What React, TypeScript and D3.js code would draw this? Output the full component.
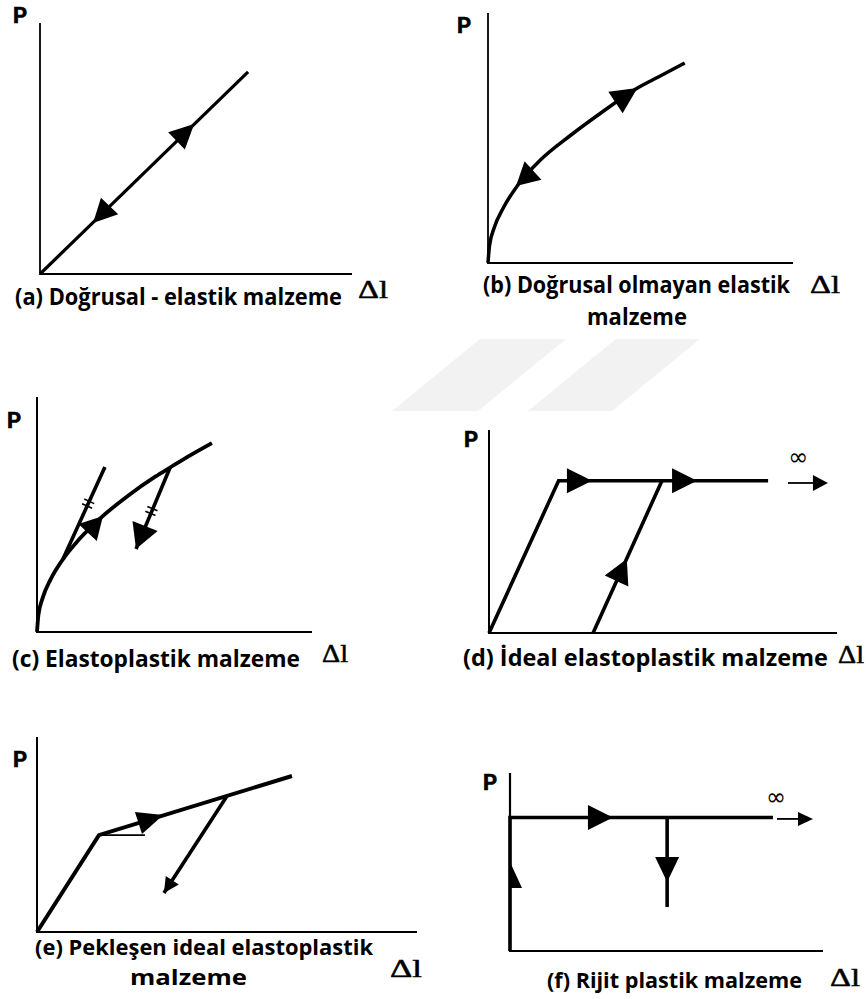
import React from 'react';
import * as d3 from 'd3';

type Pt = [number, number];

// ---------- (a) linear elastic ----------
const aLoadX = [0, 6.67];
const aLoadY = [0, 8.05];
const aArrowTips: Pt[] = [[4.94, 5.98], [1.7, 2.03]];
const aArrowTails: Pt[] = [[4.375, 5.3], [2.23, 2.71]];

// ---------- (b) nonlinear elastic ----------
const bCurveX = [0, 0.05, 0.2, 0.5, 1, 1.7, 2.7, 3.7, 4.9, 5.6, 6.45];
const bCurveY = [0, 0.7, 1.4, 2.2, 3.15, 4.1, 5.1, 6.0, 7.0, 7.45, 8.0];
const bArrowTips: Pt[] = [[4.9, 7.0], [0.92, 3.08]];
const bArrowTails: Pt[] = [[4.18, 6.42], [1.475, 3.7]];

// ---------- (c) elastoplastic ----------
const cCurveX = [0, 0.05, 0.2, 0.5, 1, 1.5, 2.4, 3.3, 4.3, 4.84, 5.6, 6.36];
const cCurveY = [0, 0.71, 1.43, 2.25, 3.19, 3.9, 4.94, 5.79, 6.61, 7.0, 7.54, 8.04];
const cTangentX = [0.945, 2.47];
const cTangentY = [3.11, 7.02];
const cUnloadX = [4.84, 3.6];
const cUnloadY = [7.0, 3.53];
const cArrowTips: Pt[] = [[2.4, 4.94], [3.6, 3.53]];
const cArrowTails: Pt[] = [[1.84, 4.23], [3.93, 4.51]];
const cHashAt: Pt[] = [[1.86, 5.46], [4.16, 5.15]];

// ---------- (d) ideal elastoplastic ----------
const dYieldX = [0, 2.0, 8.02];
const dYieldY = [0, 7.5, 7.5];
const dReloadX = [2.99, 4.97];
const dReloadY = [0, 7.5];
const dArrowTips: Pt[] = [[2.96, 7.5], [5.98, 7.5], [3.96, 3.65]];
const dArrowTails: Pt[] = [[2.24, 7.5], [5.26, 7.5], [3.665, 2.56]];
const dInfLineX = [8.59, 9.74];
const dInfLineY = 7.39;
const dInfLabel: Pt = [8.89, 8.62];

// ---------- (e) strain-hardening elastoplastic ----------
const eLoadX = [0, 1.63, 6.71];
const eLoadY = [0, 4.97, 8.0];
const eRefX = [1.63, 2.84];
const eRefY = [4.97, 4.97];
const eUnloadX = [5.0, 3.34];
const eUnloadY = [6.97, 2.0];
const eArrowTips: Pt[] = [[3.32, 6.0], [3.34, 2.0]];
const eArrowTails: Pt[] = [[2.67, 5.59], [3.56, 2.65]];

// ---------- (f) rigid plastic ----------
const fFlowX = [0, 0, 8.4];
const fFlowY = [0, 7.5, 7.5];
const fDropX = [5.02, 5.02];
const fDropY = [7.5, 2.47];
const fArrowTips: Pt[] = [[3.29, 7.5], [5.02, 3.88]];
const fArrowTails: Pt[] = [[2.49, 7.5], [5.02, 5.28]];
const fHalfTip: Pt = [0, 5.0];
const fHalfTail: Pt = [0, 3.54];
const fInfLineX = [8.53, 9.68];
const fInfLineY = 7.42;
const fInfLabel: Pt = [8.5, 8.62];

// ---------- labels ----------
const axisP = 'P';
const axisDelta = 'Δl';
const infinity = '∞';
const aCaption = ['(a) Doğrusal - elastik malzeme'];
const bCaption = ['(b) Doğrusal olmayan elastik', 'malzeme'];
const cCaption = ['(c) Elastoplastik malzeme'];
const dCaption = ['(d) İdeal elastoplastik malzeme'];
const eCaption = ['(e) Pekleşen ideal elastoplastik', 'malzeme'];
const fCaption = ['(f) Rijit plastik malzeme'];

const SANS = "'Open Sans', 'Noto Sans', 'DejaVu Sans', sans-serif";
const LABEL = "Roboto, 'Open Sans', sans-serif";
const SERIF = "'Liberation Serif', 'DejaVu Serif', serif";
const MATH = "'DejaVu Sans', sans-serif";

interface Box { x0: number; x1: number; y0: number; y1: number }
interface TextSpot { x: number; y: number; w: number }

interface PanelSpec {
  box: Box;
  axisWidth: number;
  pLabel: { x: number; y: number };
  delta: TextSpot;
  caption: string[];
  captionSpots: TextSpot[];
  captionSize: number;
  render: (sx: d3.ScaleLinear<number, number>, sy: d3.ScaleLinear<number, number>) => React.ReactNode;
}

const INK = '#000';

function pathOf(
  xs: number[],
  ys: number[],
  sx: d3.ScaleLinear<number, number>,
  sy: d3.ScaleLinear<number, number>,
  smooth = false,
): string {
  const gen = d3
    .line<number>()
    .x((i) => sx(xs[i]))
    .y((i) => sy(ys[i]));
  if (smooth) gen.curve(d3.curveMonotoneX);
  return gen(xs.map((_, i) => i)) || '';
}

function Stroke({ d, w = 3.5 }: { d: string; w?: number }) {
  return <path d={d} fill="none" stroke={INK} strokeWidth={w} strokeLinejoin="miter" strokeLinecap="butt" />;
}

function arrowPoints(tip: Pt, base: Pt, half: number, oneSide = false): string {
  const dx = tip[0] - base[0];
  const dy = tip[1] - base[1];
  const len = Math.hypot(dx, dy) || 1;
  const nx = -dy / len;
  const ny = dx / len;
  const p1: Pt = [base[0] + nx * half, base[1] + ny * half];
  const p2: Pt = oneSide ? base : [base[0] - nx * half, base[1] - ny * half];
  return [tip, p1, p2].map((p) => `${p[0].toFixed(2)},${p[1].toFixed(2)}`).join(' ');
}

function Heads({
  tips,
  tails,
  halves,
  sx,
  sy,
}: {
  tips: Pt[];
  tails: Pt[];
  halves: number[];
  sx: d3.ScaleLinear<number, number>;
  sy: d3.ScaleLinear<number, number>;
}) {
  return (
    <g>
      {tips.map((t, i) => (
        <polygon
          key={i}
          points={arrowPoints([sx(t[0]), sy(t[1])], [sx(tails[i][0]), sy(tails[i][1])], halves[i])}
          fill={INK}
        />
      ))}
    </g>
  );
}

function Hash({
  at,
  from,
  to,
  sx,
  sy,
}: {
  at: Pt;
  from: Pt;
  to: Pt;
  sx: d3.ScaleLinear<number, number>;
  sy: d3.ScaleLinear<number, number>;
}) {
  const ax = sx(from[0]);
  const ay = sy(from[1]);
  const bx = sx(to[0]);
  const by = sy(to[1]);
  const len = Math.hypot(bx - ax, by - ay) || 1;
  const ux = (bx - ax) / len;
  const uy = (by - ay) / len;
  const nx = -uy;
  const ny = ux;
  const cx = sx(at[0]);
  const cy = sy(at[1]);
  return (
    <g stroke={INK} strokeWidth={1.6}>
      {[-2.6, 2.6].map((s, i) => {
        const mx = cx + ux * s;
        const my = cy + uy * s;
        return <line key={i} x1={mx - nx * 5.5} y1={my - ny * 5.5} x2={mx + nx * 5.5} y2={my + ny * 5.5} />;
      })}
    </g>
  );
}

function InfinityMark({
  lineX,
  lineY,
  label,
  head,
  half,
  sx,
  sy,
}: {
  lineX: number[];
  lineY: number;
  label: Pt;
  head: number;
  half: number;
  sx: d3.ScaleLinear<number, number>;
  sy: d3.ScaleLinear<number, number>;
}) {
  const x0 = sx(lineX[0]);
  const tip = sx(lineX[1]);
  const y = sy(lineY);
  return (
    <g>
      <line x1={x0} y1={y} x2={tip - head + 1} y2={y} stroke={INK} strokeWidth={1.8} />
      <polygon points={arrowPoints([tip, y], [tip - head, y], half)} fill={INK} />
      <text x={sx(label[0])} y={sy(label[1]) + 7} fontFamily={MATH} fontSize={24} textAnchor="middle" fill={INK}>
        {infinity}
      </text>
    </g>
  );
}

const panels: PanelSpec[] = [
  {
    box: { x0: 40, x1: 352, y0: 274, y1: 23 },
    axisWidth: 1.8,
    pLabel: { x: 13, y: 23 },
    delta: { x: 358, y: 298, w: 30 },
    caption: aCaption,
    captionSpots: [{ x: 15, y: 305, w: 327 }],
    captionSize: 23,
    render: (sx, sy) => (
      <g>
        <Stroke d={pathOf(aLoadX, aLoadY, sx, sy)} w={3.2} />
        <Heads tips={aArrowTips} tails={aArrowTails} halves={[12, 12]} sx={sx} sy={sy} />
      </g>
    ),
  },
  {
    box: { x0: 488, x1: 793, y0: 263, y1: 13 },
    axisWidth: 1.8,
    pLabel: { x: 457, y: 33 },
    delta: { x: 810, y: 293, w: 30 },
    caption: bCaption,
    captionSpots: [
      { x: 483, y: 293, w: 307 },
      { x: 587, y: 325, w: 100 },
    ],
    captionSize: 23,
    render: (sx, sy) => (
      <g>
        <Stroke d={pathOf(bCurveX, bCurveY, sx, sy, true)} w={3.5} />
        <Heads tips={bArrowTips} tails={bArrowTails} halves={[13, 12.5]} sx={sx} sy={sy} />
      </g>
    ),
  },
  {
    box: { x0: 37, x1: 312, y0: 632, y1: 397 },
    axisWidth: 2,
    pLabel: { x: 7, y: 428 },
    delta: { x: 322, y: 662, w: 26 },
    caption: cCaption,
    captionSpots: [{ x: 12, y: 667, w: 288 }],
    captionSize: 23,
    render: (sx, sy) => (
      <g>
        <Stroke d={pathOf(cCurveX, cCurveY, sx, sy, true)} w={3.8} />
        <Stroke d={pathOf(cTangentX, cTangentY, sx, sy)} w={3.6} />
        <Stroke d={pathOf(cUnloadX, cUnloadY, sx, sy)} w={3.6} />
        <Heads tips={cArrowTips} tails={cArrowTails} halves={[12.5, 13.5]} sx={sx} sy={sy} />
        <Hash at={cHashAt[0]} from={[cTangentX[0], cTangentY[0]]} to={[cTangentX[1], cTangentY[1]]} sx={sx} sy={sy} />
        <Hash at={cHashAt[1]} from={[cUnloadX[0], cUnloadY[0]]} to={[cUnloadX[1], cUnloadY[1]]} sx={sx} sy={sy} />
      </g>
    ),
  },
  {
    box: { x0: 489, x1: 837, y0: 633, y1: 430 },
    axisWidth: 2,
    pLabel: { x: 464, y: 447 },
    delta: { x: 838, y: 663, w: 26 },
    caption: dCaption,
    captionSpots: [{ x: 463, y: 666, w: 365 }],
    captionSize: 23,
    render: (sx, sy) => (
      <g>
        <Stroke d={pathOf(dYieldX, dYieldY, sx, sy)} w={3.6} />
        <Stroke d={pathOf(dReloadX, dReloadY, sx, sy)} w={3.6} />
        <Heads tips={dArrowTips} tails={dArrowTails} halves={[12.5, 12.5, 13]} sx={sx} sy={sy} />
        <InfinityMark lineX={dInfLineX} lineY={dInfLineY} label={dInfLabel} head={15} half={8} sx={sx} sy={sy} />
      </g>
    ),
  },
  {
    box: { x0: 37, x1: 417, y0: 932, y1: 737 },
    axisWidth: 2,
    pLabel: { x: 13, y: 767 },
    delta: { x: 390, y: 977, w: 32 },
    caption: eCaption,
    captionSpots: [
      { x: 35, y: 955, w: 338 },
      { x: 130, y: 985, w: 117 },
    ],
    captionSize: 22,
    render: (sx, sy) => (
      <g>
        <Stroke d={pathOf(eLoadX, eLoadY, sx, sy)} w={4} />
        <Stroke d={pathOf(eRefX, eRefY, sx, sy)} w={1.8} />
        <Stroke d={pathOf(eUnloadX, eUnloadY, sx, sy)} w={3.6} />
        <Heads tips={eArrowTips} tails={eArrowTails} halves={[11.5, 7.8]} sx={sx} sy={sy} />
      </g>
    ),
  },
  {
    box: { x0: 510, x1: 823, y0: 951, y1: 773 },
    axisWidth: 2.2,
    pLabel: { x: 483, y: 790 },
    delta: { x: 830, y: 986, w: 30 },
    caption: fCaption,
    captionSpots: [{ x: 547, y: 988, w: 255 }],
    captionSize: 22,
    render: (sx, sy) => (
      <g>
        <Stroke d={pathOf(fFlowX, fFlowY, sx, sy)} w={3.6} />
        <Stroke d={pathOf(fDropX, fDropY, sx, sy)} w={3.6} />
        <Heads tips={fArrowTips} tails={fArrowTails} halves={[12.5, 12]} sx={sx} sy={sy} />
        <polygon
          points={arrowPoints([sx(fHalfTip[0]), sy(fHalfTip[1])], [sx(fHalfTail[0]), sy(fHalfTail[1])], 12, true)}
          fill={INK}
        />
        <InfinityMark lineX={fInfLineX} lineY={fInfLineY} label={fInfLabel} head={15} half={7} sx={sx} sy={sy} />
      </g>
    ),
  },
];

function Panel({ spec }: { spec: PanelSpec }) {
  const { box } = spec;
  const sx = d3.scaleLinear().domain([0, 10]).range([box.x0, box.x1]);
  const sy = d3.scaleLinear().domain([0, 10]).range([box.y0, box.y1]);
  const axis = `M${box.x0},${box.y1}L${box.x0},${box.y0}L${box.x1},${box.y0}`;
  return (
    <g>
      <path d={axis} fill="none" stroke={INK} strokeWidth={spec.axisWidth} strokeLinejoin="miter" />
      {spec.render(sx, sy)}
      <text
        x={spec.pLabel.x}
        y={spec.pLabel.y}
        fontFamily={LABEL}
        fontWeight={700}
        fontSize={22}
        fill={INK}
        stroke={INK}
        strokeWidth={0.6}
      >
        {axisP}
      </text>
      <text
        x={spec.delta.x}
        y={spec.delta.y}
        fontFamily={SERIF}
        fontSize={25}
        fill={INK}
        stroke={INK}
        strokeWidth={0.5}
        textLength={spec.delta.w}
        lengthAdjust="spacingAndGlyphs"
      >
        {axisDelta}
      </text>
      {spec.caption.map((line, i) => (
        <text
          key={i}
          x={spec.captionSpots[i].x}
          y={spec.captionSpots[i].y}
          fontFamily={SANS}
          fontWeight={700}
          fontSize={spec.captionSize}
          fill={INK}
          textLength={spec.captionSpots[i].w}
          lengthAdjust="spacingAndGlyphs"
        >
          {line}
        </text>
      ))}
    </g>
  );
}

// faint logo shapes in the page background
const markShapes: Pt[][] = [
  [[392, 411], [478, 411], [566, 339], [480, 339]],
  [[528, 411], [612, 411], [700, 339], [616, 339]],
];

export default function App() {
  return (
    <svg
      width={866}
      height={999}
      viewBox="0 0 866 999"
      style={{ position: 'absolute', left: 0, top: 0, display: 'block', background: '#fff' }}
    >
      <rect x={0} y={0} width={866} height={999} fill="#fff" />
      <g fill="#f2f2f2">
        {markShapes.map((s, i) => (
          <polygon key={i} points={s.map((p) => p.join(',')).join(' ')} />
        ))}
      </g>
      {panels.map((p, i) => (
        <Panel key={i} spec={p} />
      ))}
    </svg>
  );
}
